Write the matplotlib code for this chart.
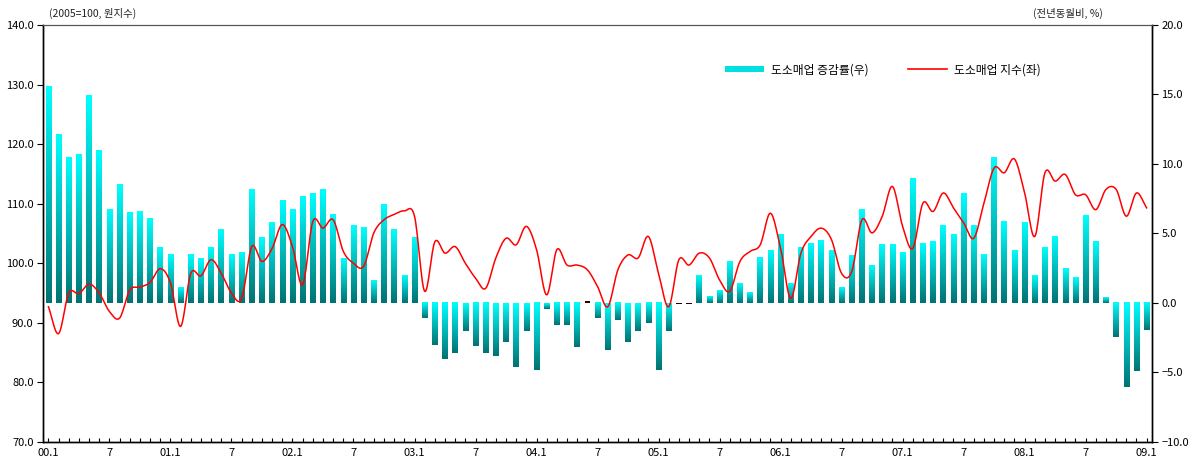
import numpy as np
import matplotlib
matplotlib.use("Agg")
import matplotlib.pyplot as plt
from matplotlib.colors import LinearSegmentedColormap
from matplotlib.patches import Rectangle
from matplotlib.lines import Line2D

plt.rcParams['font.family'] = ['Noto Sans CJK KR', 'DejaVu Sans']
plt.rcParams['font.size'] = 8

# monthly, 2000.1 ~ 2009.1
months = np.arange(109)

# 도소매업 증감률 (전년동월비, %) - right axis
growth = [
    15.6, 12.1, 10.5, 10.7, 14.9, 11.0, 6.7, 8.5, 6.5, 6.6, 6.1, 4.0,
    3.5, 1.15, 3.5, 3.2, 4.0, 5.3, 3.5, 3.6, 8.2, 4.7, 5.8, 7.4,
    6.7, 7.65, 7.9, 8.2, 6.4, 3.2, 5.6, 5.4, 1.6, 7.1, 5.3, 1.95,
    4.7, -1.1, -3.05, -4.05, -3.6, -2.0, -3.1, -3.6, -3.8, -2.8, -4.6, -2.0,
    -4.85, -0.4, -1.6, -1.6, -3.2, 0.1, -1.1, -3.35, -1.25, -2.8, -2.0, -1.45,
    -4.85, -2.0, -0.1, -0.1, 1.95, 0.5, 0.87, 2.96, 1.37, 0.72, 3.3, 3.75,
    4.9, 1.37, 4.0, 4.25, 4.5, 3.75, 1.08, 3.4, 6.7, 2.67, 4.2, 4.2,
    3.6, 8.95, 4.25, 4.4, 5.55, 4.9, 7.87, 5.6, 3.5, 10.46, 5.85, 3.75,
    5.77, 1.95, 4.0, 4.8, 2.45, 1.8, 6.3, 4.4, 0.36, -2.45, -6.05, -4.9,
    -1.95,
]

# 도소매업 지수 (2005=100) - left axis
index = [
    92.7, 88.2, 95.0, 94.9, 96.5, 95.0, 91.9, 90.8, 95.5, 96.0, 96.8, 99.1,
    96.7, 89.4, 98.3, 97.9, 100.6, 98.3, 95.0, 94.1, 102.8, 100.3, 102.5, 106.5,
    102.8, 96.4, 107.0, 105.9, 107.3, 102.0, 100.0, 99.5, 105.1, 107.3, 108.2, 108.8,
    107.9, 95.3, 103.6, 101.7, 102.8, 100.0, 97.5, 95.8, 100.9, 104.2, 103.1, 106.2,
    102.3, 94.7, 102.3, 99.7, 99.7, 98.9, 96.1, 92.7, 98.9, 101.4, 100.9, 104.5,
    98.3, 92.7, 100.6, 99.7, 101.7, 100.9, 97.2, 95.3, 100.3, 102.0, 103.1, 108.4,
    102.5, 94.1, 101.7, 104.5, 105.9, 104.0, 98.3, 98.6, 107.3, 105.1, 107.9, 112.9,
    106.2, 102.5, 110.1, 108.7, 111.8, 109.3, 106.8, 104.2, 110.1, 116.0, 115.2, 117.5,
    111.8, 104.5, 115.2, 113.8, 114.9, 111.5, 111.5, 109.0, 112.4, 112.4, 107.9, 111.8,
    109.3,
]

tick_pos = list(range(0, 109, 6))
tick_labels = []
for p in tick_pos:
    if p % 12 == 0:
        tick_labels.append("%02d.1" % (p // 12))
    else:
        tick_labels.append("7")


def smooth(x, y, n=16):
    # catmull-rom curve through the points (like an excel smoothed line)
    x = np.asarray(x, float)
    y = np.asarray(y, float)
    px = np.concatenate([[2 * x[0] - x[1]], x, [2 * x[-1] - x[-2]]])
    py = np.concatenate([[2 * y[0] - y[1]], y, [2 * y[-1] - y[-2]]])
    t = np.linspace(0, 1, n, endpoint=False)
    xs, ys = [], []
    for i in range(1, len(px) - 2):
        for arr, out in ((px, xs), (py, ys)):
            p0, p1, p2, p3 = arr[i - 1], arr[i], arr[i + 1], arr[i + 2]
            out.append(0.5 * (2 * p1 + (-p0 + p2) * t
                              + (2 * p0 - 5 * p1 + 4 * p2 - p3) * t ** 2
                              + (-p0 + 3 * p1 - 3 * p2 + p3) * t ** 3))
    xs.append([x[-1]])
    ys.append([y[-1]])
    return np.concatenate(xs), np.concatenate(ys)


cmap = LinearSegmentedColormap.from_list("bar", ["#00FFFF", "#007272"])
grad = np.linspace(0, 1, 256).reshape(-1, 1)

fig = plt.figure(figsize=(11.94, 4.66), dpi=100)
ax = fig.add_axes([0.0363, 0.0515, 0.9283, 0.8949])
ax2 = ax.twinx()

# bars (right scale) on the base axis so the line stays on top
w = 0.55
for m, v in zip(months, growth):
    if abs(v) < 0.15:
        ax.add_patch(Rectangle((m - w / 2, min(0, v)), w, max(abs(v), 0.12),
                               facecolor="#2a0000", edgecolor="none"))
        continue
    lo, hi = min(0, v), max(0, v)
    ax.imshow(grad, extent=[m - w / 2, m + w / 2, lo, hi], cmap=cmap,
              aspect="auto", origin="upper", interpolation="bilinear")

ax.set_xlim(-0.5, 108.5)
ax.set_ylim(-10, 20)
ax.set_yticks(np.arange(-10, 21, 5))
ax.set_yticklabels(["%.1f" % v if v >= 0 else "\u2212%.1f" % -v for v in np.arange(-10, 21, 5)])
ax.yaxis.tick_right()
ax.yaxis.set_label_position("right")

sx, sy = smooth(months, index)
ax2.plot(sx, sy, color="#FF0000", lw=1.1)
ax2.set_ylim(70, 140)
ax2.set_yticks(np.arange(70, 141, 10))
ax2.set_yticklabels(["%.1f" % v for v in np.arange(70, 141, 10)])
ax2.yaxis.tick_left()
ax2.yaxis.set_label_position("left")

ax.set_xticks(months, minor=True)
ax.set_xticks(tick_pos)
ax.set_xticklabels(tick_labels)
ax.tick_params(axis="x", which="both", direction="in", length=3, width=0.8, pad=4)
ax.tick_params(axis="y", direction="out", length=4, width=0.8, pad=3, right=True, left=False)
ax2.tick_params(axis="y", direction="out", length=4, width=0.8, pad=3, left=True, right=False)
ax2.tick_params(axis="x", which="both", bottom=False, labelbottom=False)

for a in (ax, ax2):
    for s in ("left", "right", "bottom"):
        a.spines[s].set_color("#000000")
        a.spines[s].set_linewidth(1.0)
    a.spines["top"].set_color("#555555")
    a.spines["top"].set_linewidth(0.8)

fig.text(0.041, 0.972, "(2005=100, 원지수)", fontsize=7.5, va="center", ha="left", color="#222222")
fig.text(0.924, 0.972, "(전년동월비, %)", fontsize=7.5, va="center", ha="right", color="#222222")

handles = [Rectangle((0, 0), 1, 1, facecolor="#00E0E0", edgecolor="none"),
           Line2D([], [], color="#FF0000", lw=1.2)]
ax2.legend(handles, ["도소매업 증감률(우)", "도소매업 지수(좌)"], ncol=2, frameon=False,
           loc="center left", bbox_to_anchor=(0.605, 0.893), handlelength=3.3,
           handleheight=0.45, columnspacing=3.4, handletextpad=0.6, fontsize=8.5)

fig.savefig("out.png", dpi=100)
